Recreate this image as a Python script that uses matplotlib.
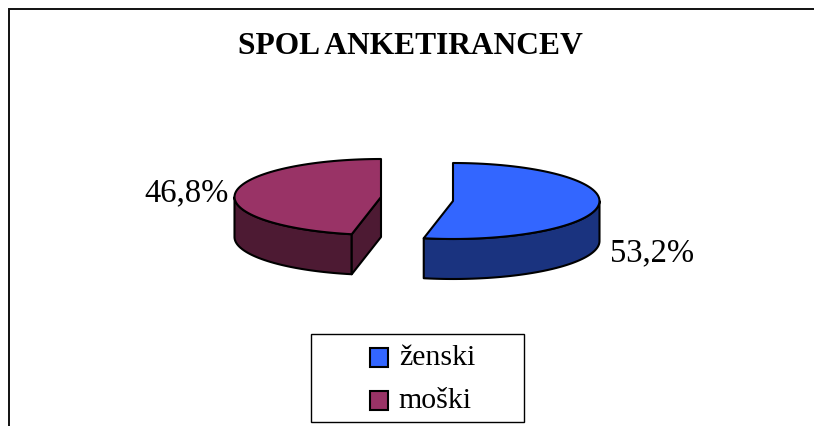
import numpy as np
import matplotlib
matplotlib.use("Agg")
import matplotlib.pyplot as plt
from matplotlib.patches import Polygon, Patch, Rectangle

plt.rcParams['font.family'] = ['Liberation Serif', 'DejaVu Serif']

title = "SPOL ANKETIRANCEV"
categories = ["ženski", "moški"]
shares = [53.2, 46.8]
share_labels = ["53,2%", "46,8%"]
top_colors = ["#3366FF", "#993366"]
side_colors = ["#1A337F", "#4D1A33"]

W, H = 814, 427
fig = plt.figure(figsize=(W / 100, H / 100), dpi=100)
ax = fig.add_axes([0, 0, 1, 1])
ax.set_xlim(0, W)
ax.set_ylim(H, 0)
ax.axis("off")

# chart frame: only the top and left edges fall inside the picture
ax.plot([8.5, 8.5, W], [H, 10, 10], color="#111111", lw=1.4, solid_joinstyle="miter")

ax.text(410, 47, title, ha="center", va="center", fontsize=22.7, fontweight="bold", color="black")

# exploded slices: (centre x, centre y)
centres = [(453, 202), (381, 198)]
rx, ry, depth = 146.5, 38, 40
edge = dict(edgecolor="black", linewidth=1.5, joinstyle="round")


def pts(cx, cy, a0, a1, dy=0, n=80):
    a = np.radians(np.linspace(a0, a1, n))
    return np.column_stack([cx + rx * np.sin(a), cy - ry * np.cos(a) + dy])


fractions = np.cumsum([0] + shares) / sum(shares) * 360
a0, a1, a2 = fractions

# first slice (clockwise from 12 o'clock)
cx, cy = centres[0]
arc = pts(cx, cy, 90, a1)
ax.add_patch(Polygon(np.vstack([arc, pts(cx, cy, a1, 90, depth)]), facecolor=side_colors[0], **edge))
ax.add_patch(Polygon(np.vstack([[[cx, cy]], pts(cx, cy, a0, a1)]), facecolor=top_colors[0], **edge))

# second slice
cx, cy = centres[1]
arc = pts(cx, cy, a1, 270)
ax.add_patch(Polygon(np.vstack([arc, pts(cx, cy, 270, a1, depth)]), facecolor=side_colors[1], **edge))
p = pts(cx, cy, a1, a1, n=1)[0]
cut = np.array([p, [cx, cy], [cx, cy + depth], [p[0], p[1] + depth]])
ax.add_patch(Polygon(cut, facecolor=side_colors[1], **edge))
ax.add_patch(Polygon(np.vstack([[[cx, cy]], pts(cx, cy, a1, a2)]), facecolor=top_colors[1], **edge))

ax.text(652, 253, share_labels[0], ha="center", va="center", fontsize=23.5, color="black")
ax.text(187, 193, share_labels[1], ha="center", va="center", fontsize=23.5, color="black")

# legend box is wider than its entries
ax.add_patch(Rectangle((310.5, 334.5), 213, 88, facecolor="white", edgecolor="black", linewidth=1.0))
handles = [Patch(facecolor=c, edgecolor="black", linewidth=1.5) for c in top_colors]
leg = ax.legend(handles, categories, loc="center", bbox_to_anchor=(422.7, 379.5),
                bbox_transform=ax.transData, fontsize=21.5, frameon=False,
                handlelength=0.6, handleheight=0.6,
                handletextpad=0.35, borderpad=0, borderaxespad=0, labelspacing=0.55)
for h in leg.legend_handles:
    h.set_y(h.get_y() - 2.9)

fig.savefig("out.png", dpi=100)
